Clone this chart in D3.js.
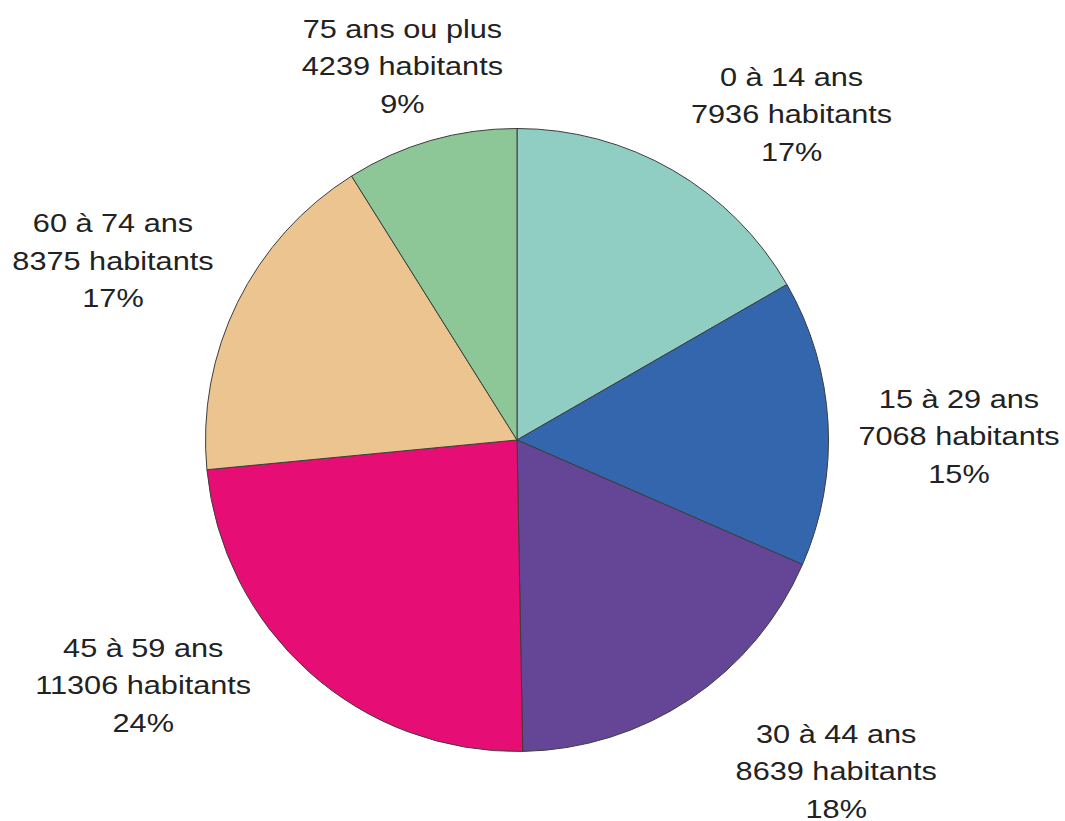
<!DOCTYPE html>
<html>
<head>
<meta charset="utf-8">
<script src="https://cdn.jsdelivr.net/npm/d3@7"></script>
<style>
  html, body { margin: 0; padding: 0; background: #ffffff; }
  svg { display: block; }
</style>
</head>
<body>
<svg id="chart" width="1065" height="821"></svg>
<script>
// ---- data ----
const categories = ["0 à 14 ans", "15 à 29 ans", "30 à 44 ans", "45 à 59 ans", "60 à 74 ans", "75 ans ou plus"];
const values = [7936, 7068, 8639, 11306, 8375, 4239];
const percentLabels = ["17%", "15%", "18%", "24%", "17%", "9%"];
const unitLabel = "habitants";

// ---- styling / layout ----
const colors = ["#90cdc3", "#3366ad", "#644596", "#e60e74", "#ecc48f", "#8dc797"];
// label placement: angular shift (deg) from slice mid-angle and distance from centre
const labelShiftDeg = [10.1, 2.7, -10.2, 15.0, -2.3, -1.0];
const labelDist = [426, 442, 460, 447, 442, 391];

const W = 1065, H = 821;
const cx = 517, cy = 440, R = 311.5;
const fontSize = 26, stretchX = 1.18, lineGap = 37.5;

const svg = d3.select("#chart");
const g = svg.append("g").attr("transform", `translate(${cx},${cy})`);

const pie = d3.pie().sort(null).value(d => d.value);
const data = categories.map((c, i) => ({ cat: c, value: values[i], pct: percentLabels[i], i }));
const arcs = pie(data);

const arc = d3.arc().innerRadius(0).outerRadius(R);

g.selectAll("path.slice")
  .data(arcs)
  .join("path")
  .attr("class", "slice")
  .attr("d", arc)
  .attr("fill", d => colors[d.data.i])
  .attr("stroke", "#3d3d3d")
  .attr("stroke-width", 1)
  .attr("stroke-linejoin", "round");

const labels = g.selectAll("g.label")
  .data(arcs)
  .join("g")
  .attr("class", "label")
  .attr("transform", d => {
    const i = d.data.i;
    const mid = (d.startAngle + d.endAngle) / 2 + labelShiftDeg[i] * Math.PI / 180;
    const la = d3.arc().innerRadius(labelDist[i]).outerRadius(labelDist[i])
      .startAngle(mid).endAngle(mid);
    const [x, y] = la.centroid();
    return `translate(${x},${y + 9}) scale(${stretchX},1)`;
  });

labels.each(function(d) {
  const lines = [d.data.cat, d.data.value + " " + unitLabel, d.data.pct];
  d3.select(this).selectAll("text")
    .data(lines)
    .join("text")
    .attr("x", 0)
    .attr("y", (t, k) => (k - 1) * lineGap)
    .attr("text-anchor", "middle")
    .attr("font-family", "'Liberation Sans', Arial, sans-serif")
    .attr("font-size", fontSize)
    .attr("fill", "#222222")
    .text(t => t);
});
</script>
</body>
</html>
